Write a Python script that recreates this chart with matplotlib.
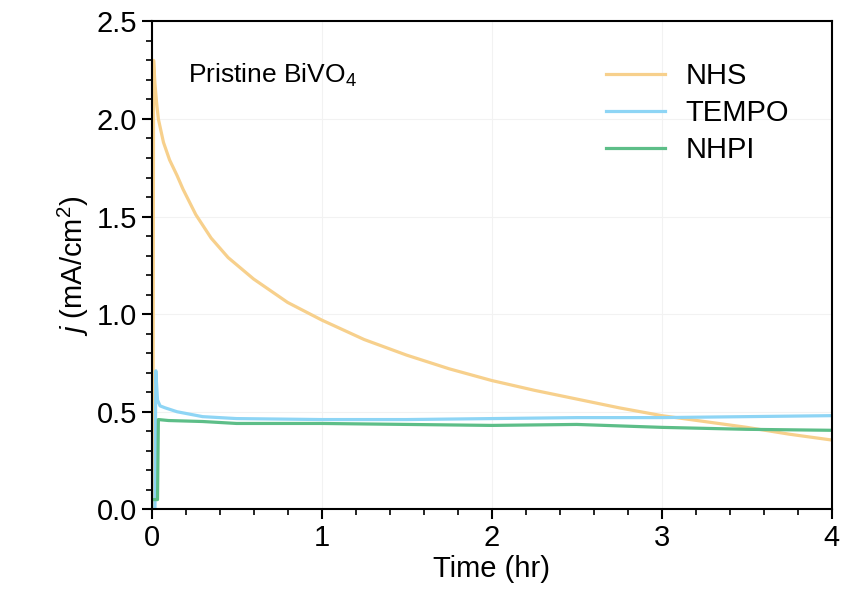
import numpy as np
import matplotlib
matplotlib.use("Agg")
import matplotlib.pyplot as plt
from matplotlib.ticker import MultipleLocator

plt.rcParams['font.family'] = ['Liberation Sans', 'DejaVu Sans']
plt.rcParams['mathtext.fontset'] = 'custom'
plt.rcParams['mathtext.rm'] = 'Liberation Sans'
plt.rcParams['mathtext.it'] = 'Liberation Sans:italic'

# values (time in hr, current density in mA/cm2)
nhs_t = [0.0, 0.008, 0.012, 0.02, 0.03, 0.04, 0.07, 0.106, 0.15, 0.185, 0.26, 0.35, 0.45,
         0.6, 0.8, 1.0, 1.25, 1.5, 1.75, 2.0, 2.25, 2.5, 2.75, 3.0, 3.25, 3.5, 3.75, 4.0]
nhs_j = [0.0, 0.0, 2.30, 2.18, 2.08, 2.00, 1.88, 1.79, 1.71, 1.64, 1.51, 1.39, 1.29,
         1.18, 1.06, 0.97, 0.87, 0.79, 0.72, 0.66, 0.61, 0.565, 0.52, 0.48, 0.45, 0.42,
         0.385, 0.355]

tempo_t = [0.0, 0.02, 0.025, 0.035, 0.05, 0.08, 0.15, 0.3, 0.5, 1.0, 1.5, 2.0, 2.5, 3.0,
           3.5, 4.0]
tempo_j = [0.0, 0.0, 0.71, 0.56, 0.53, 0.52, 0.50, 0.475, 0.465, 0.46, 0.46, 0.465, 0.47,
           0.47, 0.475, 0.48]

nhpi_t = [0.0, 0.035, 0.04, 0.1, 0.3, 0.5, 1.0, 1.5, 2.0, 2.5, 3.0, 3.5, 4.0]
nhpi_j = [0.05, 0.05, 0.46, 0.455, 0.45, 0.44, 0.44, 0.435, 0.43, 0.435, 0.42, 0.41, 0.405]

fig, ax = plt.subplots(figsize=(8.42, 6.10), dpi=100)
fig.subplots_adjust(left=0.18, right=0.988, top=0.965, bottom=0.165)

ax.plot(nhs_t, nhs_j, color='#F7D08C', lw=2.3, label='NHS')
ax.plot(tempo_t, tempo_j, color='#8ED5F5', lw=2.3, label='TEMPO')
ax.plot(nhpi_t, nhpi_j, color='#5DBE88', lw=2.3, label='NHPI')

ax.set_xlim(0, 4)
ax.set_ylim(0, 2.5)
ax.xaxis.set_major_locator(MultipleLocator(1))
ax.xaxis.set_minor_locator(MultipleLocator(0.2))
ax.yaxis.set_minor_locator(MultipleLocator(0.1))
ax.set_yticks([0, 0.5, 1.0, 1.5, 2.0, 2.5])
ax.set_yticklabels(['0.0', '0.5', '1.0', '1.5', '2.0', '2.5'])
ax.grid(True, which='major', color='#f2f2f2', lw=0.8)
ax.set_axisbelow(True)

ax.tick_params(which='major', direction='out', length=7, width=1.5, labelsize=21)
ax.tick_params(which='minor', direction='out', length=4, width=1.2)
for s in ax.spines.values():
    s.set_linewidth(1.5)

ax.set_xlabel('Time (hr)', fontsize=21, labelpad=2)
ax.set_ylabel(r'$\it{j}$ (mA/cm$^2$)', fontsize=21)

ax.text(0.053, 0.875, r'Pristine BiVO$_4$', transform=ax.transAxes, fontsize=19)
ax.legend(loc='upper right', frameon=False, fontsize=21, handlelength=2.0,
          handletextpad=0.7, labelspacing=0.3, bbox_to_anchor=(0.975, 0.97))

fig.savefig('out.png', dpi=100)
